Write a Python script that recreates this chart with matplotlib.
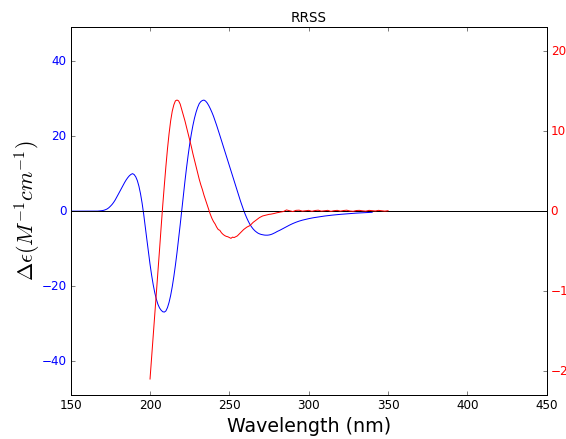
import matplotlib
matplotlib.use("Agg")
import matplotlib.pyplot as plt

plt.style.use("classic")

# Calculated CD spectrum (left axis)
calc_wavelength = [150, 155, 160, 164, 166, 167, 168, 169, 170, 171, 172, 173, 174, 175, 176, 177,
                   178, 179, 180, 181, 182, 183, 184, 185, 186, 187, 188, 189, 190, 191, 192, 193,
                   194, 195, 196, 197, 198, 199, 200, 201, 202, 203, 204, 205, 206, 207, 208, 209,
                   210, 211, 212, 213, 214, 215, 216, 217, 218, 219, 220, 221, 222, 223, 224, 225,
                   226, 227, 228, 229, 230, 231, 232, 233, 234, 235, 236, 237, 238, 239, 240, 241,
                   242, 243, 244, 245, 246, 247, 248, 249, 250, 251, 252, 253, 254, 255, 256, 257,
                   258, 259, 260, 261, 262, 263, 264, 265, 266, 267, 268, 269, 270, 271, 272, 273,
                   274, 275, 276, 277, 278, 279, 280, 282, 284, 286, 288, 290, 292, 294, 296, 298,
                   300, 303, 306, 310, 315, 320, 325, 330, 335, 340]
calc_delta_eps = [0.0, 0.0, 0.0, 0.0, 0.01, 0.02, 0.05, 0.1, 0.15, 0.25, 0.4, 0.6, 0.9, 1.3, 1.75,
                  2.3, 2.95, 3.7, 4.5, 5.3, 6.1, 6.9, 7.65, 8.35, 8.95, 9.45, 9.8, 10.0, 9.75, 9.15,
                  8.15, 6.65, 4.65, 2.15, -0.8, -4.1, -7.55, -10.95, -14.15, -17.05, -19.6, -21.75,
                  -23.5, -24.85, -25.8, -26.4, -26.8, -26.9, -26.6, -25.7, -24.3, -22.45, -20.15,
                  -17.45, -14.4, -11.05, -7.45, -3.65, 0.25, 4.15, 7.95, 11.55, 14.85, 17.85, 20.5,
                  22.8, 24.75, 26.35, 27.65, 28.65, 29.2, 29.5, 29.6, 29.35, 28.85, 28.15, 27.3,
                  26.35, 25.3, 24.1, 22.85, 21.55, 20.2, 18.85, 17.5, 16.15, 14.8, 13.45, 12.1, 10.75,
                  9.4, 8.05, 6.7, 5.35, 4.0, 2.7, 1.45, 0.25, -0.85, -1.85, -2.75, -3.55, -4.2, -4.75,
                  -5.2, -5.55, -5.85, -6.05, -6.2, -6.3, -6.37, -6.4, -6.4, -6.35, -6.25, -6.1, -5.9,
                  -5.7, -5.45, -5.05, -4.6, -4.15, -3.7, -3.3, -2.95, -2.65, -2.4, -2.2, -2.0, -1.75,
                  -1.55, -1.3, -1.05, -0.85, -0.68, -0.52, -0.4, -0.3]

# Experimental CD spectrum (right axis)
exp_wavelength = [200, 201, 202, 203, 204, 205, 206, 207, 208, 209, 210, 211, 212, 213, 214, 215,
                  216, 217, 218, 219, 220, 221, 222, 223, 224, 225, 226, 227, 228, 229, 230, 231,
                  232, 233, 234, 235, 236, 237, 238, 239, 240, 241, 242, 243, 244, 245, 246, 247,
                  248, 249, 250, 251, 252, 253, 254, 255, 256, 257, 258, 259, 260, 261, 262, 263,
                  264, 265, 266, 267, 268, 269, 270, 271, 272, 273, 274, 275, 276, 277, 278, 280,
                  282, 284, 286, 288, 290, 292, 294, 296, 298, 300, 302, 304, 306, 308, 310, 312,
                  314, 316, 318, 320, 322, 324, 326, 328, 330, 332, 334, 336, 338, 340, 342, 344,
                  346, 348, 350]
exp_delta_eps = [-21.0, -18.3, -15.6, -12.9, -10.2, -7.5, -4.8, -2.0, 0.7, 3.2, 5.6, 7.8, 9.7, 11.3,
                 12.5, 13.3, 13.8, 13.9, 13.8, 13.4, 12.7, 12.0, 11.3, 10.5, 9.7, 8.9, 8.1, 7.2, 6.4,
                 5.6, 4.8, 4.0, 3.3, 2.7, 2.0, 1.4, 0.8, 0.2, -0.4, -0.9, -1.3, -1.6, -2.0, -2.3,
                 -2.4, -2.7, -2.9, -3.05, -3.15, -3.2, -3.3, -3.4, -3.25, -3.3, -3.2, -3.1, -2.9,
                 -2.7, -2.5, -2.3, -2.15, -2.0, -1.9, -1.8, -1.6, -1.4, -1.25, -1.1, -0.95, -0.8,
                 -0.7, -0.6, -0.55, -0.5, -0.45, -0.4, -0.38, -0.34, -0.3, -0.2, -0.12, -0.05, 0.15,
                 0.05, -0.05, 0.1, 0.12, 0.0, 0.05, 0.1, -0.02, 0.08, 0.12, 0.0, 0.05, 0.1, -0.03,
                 0.06, 0.1, 0.0, 0.08, 0.12, 0.02, -0.02, 0.08, 0.1, 0.04, 0.0, 0.1, 0.06, 0.02,
                 0.1, 0.05, 0.0, 0.06]

title = "RRSS"
x_ticks = [150, 200, 250, 300, 350, 400, 450]
left_ticks = [-40, -20, 0, 20, 40]
right_ticks = [-20, -10, 0, 10, 20]

fig = plt.figure(figsize=(566 / 72, 439 / 72), dpi=72, facecolor="white")
ax1 = fig.add_axes([0.1249, 0.1002, 0.8410, 0.8376])
ax1.set_facecolor("white")

ax1.plot(calc_wavelength, calc_delta_eps, color="b", lw=1.0)
ax1.axhline(0, color="k", lw=1.0)
ax1.set_xlim(150, 450)
ax1.set_ylim(-49, 49)
ax1.set_xticks(x_ticks)
ax1.set_yticks(left_ticks)
ax1.tick_params(axis="y", labelcolor="b", labelsize=12)
ax1.tick_params(axis="x", labelsize=12)
ax1.set_xlabel("Wavelength (nm)", fontsize=19)
ax1.set_ylabel(r"$\Delta\epsilon(M^{-1}cm^{-1})$", fontsize=22, labelpad=0)
ax1.set_title(title, fontsize=13.5)

ax2 = ax1.twinx()
ax2.plot(exp_wavelength, exp_delta_eps, color="r", lw=1.0)
ax2.set_ylim(-23, 23)
ax2.set_yticks(right_ticks)
ax2.tick_params(axis="y", labelcolor="r", labelsize=12)
ax2.set_xlim(150, 450)

fig.savefig("out.png", dpi=72, facecolor="white")
